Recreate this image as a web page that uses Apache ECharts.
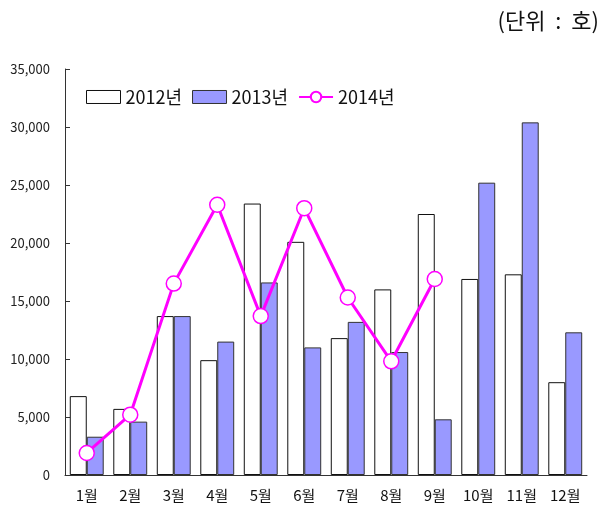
<!DOCTYPE html>
<html>
<head>
<meta charset="utf-8">
<script src="https://cdn.jsdelivr.net/npm/echarts@6/dist/echarts.min.js"></script>
<style>
  html, body { margin: 0; padding: 0; background: #fff; }
  #chart { width: 613px; height: 508px; }
</style>
</head>
<body>
<div id="chart"></div>
<script>
// months and yearly counts (unit: 호)
var months = ['1월', '2월', '3월', '4월', '5월', '6월', '7월', '8월', '9월', '10월', '11월', '12월'];
var y2012 = [6800, 5700, 13700, 9900, 23400, 20100, 11800, 16000, 22500, 16900, 17300, 8000];
var y2013 = [3300, 4600, 13700, 11500, 16600, 11000, 13200, 10600, 4800, 25200, 30400, 12300];
var y2014 = [1900, 5200, 16500, 23300, 13700, 23000, 15300, 9800, 16900, null, null, null];

var myChart = echarts.init(document.getElementById('chart'));

var fontKr = '"Noto Sans CJK KR", "Noto Sans", sans-serif';

var option = {
    animation: false,
    textStyle: { fontFamily: fontKr },

    title: {
        text: '(단위  :  호)',
        right: 9,
        top: 5,
        textStyle: { fontSize: 22, fontWeight: 'normal', color: '#111', fontFamily: fontKr }
    },

    legend: {
        left: 81,
        top: 83,
        itemWidth: 34,
        itemHeight: 13,
        itemGap: 10,
        textStyle: { fontSize: 18, color: '#111', fontFamily: fontKr },
        data: [
            { name: '2012년', icon: 'rect', itemStyle: { borderWidth: 1 } },
            { name: '2013년', icon: 'rect', itemStyle: { borderWidth: 1 } },
            { name: '2014년' }
        ]
    },

    grid: { left: 65, right: 26, top: 69, bottom: 33, containLabel: false },

    xAxis: {
        type: 'category',
        data: months,
        axisLine: { lineStyle: { color: '#333', width: 1 } },
        axisTick: { inside: true, length: 5, lineStyle: { color: '#333' } },
        axisLabel: { fontSize: 15, color: '#111', margin: 13, fontFamily: fontKr }
    },

    yAxis: {
        type: 'value',
        min: 0,
        max: 35000,
        interval: 5000,
        splitLine: { show: false },
        axisLine: { show: true, lineStyle: { color: '#333', width: 1 } },
        axisTick: { show: true, inside: true, length: 5, lineStyle: { color: '#333' } },
        axisLabel: {
            fontSize: 13,
            color: '#222',
            margin: 15,
            fontFamily: fontKr,
            formatter: function (v) { return v.toLocaleString('en-US'); }
        }
    },

    series: [
        {
            name: '2012년',
            type: 'bar',
            data: y2012,
            barGap: '0%',
            barCategoryGap: '22%',
            itemStyle: { color: '#ffffff', borderColor: '#111', borderWidth: 1 }
        },
        {
            name: '2013년',
            type: 'bar',
            data: y2013,
            itemStyle: { color: '#9999ff', borderColor: '#333', borderWidth: 1 }
        },
        {
            name: '2014년',
            type: 'line',
            data: y2014,
            z: 5,
            symbol: 'circle',
            symbolSize: 15,
            showAllSymbol: true,
            lineStyle: { color: '#ff00ff', width: 3 },
            itemStyle: { color: '#ffffff', borderColor: '#ff00ff', borderWidth: 1.5 }
        }
    ]
};

myChart.setOption(option);
</script>
</body>
</html>
